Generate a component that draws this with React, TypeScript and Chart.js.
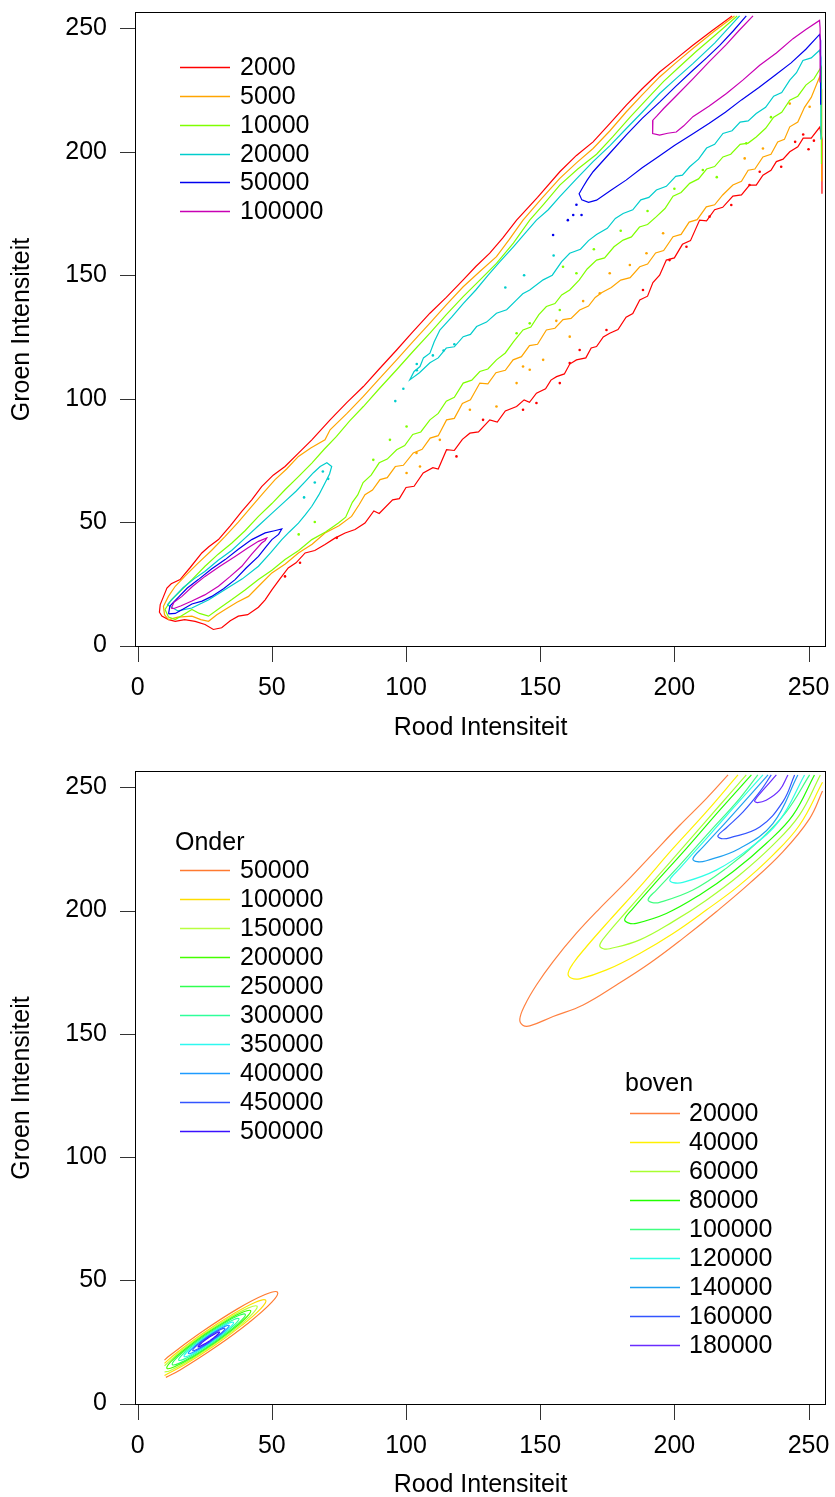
import React, { useEffect, useRef } from 'react';
import { Chart, registerables } from 'chart.js';

Chart.register(...registerables);

type Pt = [number, number];

const FONT = "'Liberation Sans', Arial, Helvetica, sans-serif";

// ---------- shared axes ----------
const axisTicks = [0, 50, 100, 150, 200, 250];
const xTitle = 'Rood Intensiteit';
const yTitle = 'Groen Intensiteit';

// ---------- top panel (raw histogram contours) ----------
const topLevels = [2000, 5000, 10000, 20000, 50000, 100000];
const topColors = ['#FF0000', '#FFA500', '#7FFF00', '#00CDCD', '#0000EE', '#C800B4'];

const c2000Main: Pt[] = [
  [221.5, 255], [214, 249], [206.9, 243.1], [200.5, 237.5], [194.5, 232.3], [188, 225.5], [182.1, 218.9], [176, 211.5],
  [169.7, 204], [163.5, 198.5], [157.3, 191.9], [149, 181.5], [141.2, 172.3], [136, 165], [131.2, 158.9], [126, 153.5],
  [121.3, 148.1], [115, 141], [108.9, 134.6], [102.5, 127], [96.5, 119.7], [90, 112], [84.1, 104.9], [78, 98.5],
  [71.7, 91.4], [64.9, 83.3], [60, 78], [54.9, 72.5], [50.5, 69], [46.2, 64.4], [42.5, 59], [38.8, 54.3], [34.5, 48.5],
  [30.1, 42.9], [26.5, 40], [23.9, 37.5], [19.5, 31.5], [15.8, 26.7], [12.5, 25], [10.9, 23.3], [9.5, 19.5], [8.4, 16.6],
  [8.1, 13.5], [9, 11.9], [11.5, 10.5], [14, 9.8], [17.5, 10.5], [21.4, 9.8], [25.1, 8.5], [28.2, 6.5], [31.3, 7.2],
  [34.5, 10], [37.5, 11.9], [41, 12.5], [45, 15.5], [47.5, 18.5], [50, 22.5], [53, 27], [56.1, 31.4], [59, 33.5],
  [62.4, 37.5], [66, 38.5], [69.8, 40.9], [73.5, 43.5], [77.3, 45.6], [81, 47], [84.7, 49.6],
  [88, 54.5], [90, 53.5], [95, 59], [97.5, 59.5], [100, 64], [103, 64.5], [106.4, 69.9], [110, 72], [112, 71.5],
  [115.1, 79.3], [118, 79], [121, 83.5], [123.8, 86], [127, 86.5], [131.2, 91.4], [134, 90.5], [137, 95], [141.2, 96.8],
  [144, 99.5], [146, 98.5], [148.6, 102.2], [152, 104], [154, 107.5], [156.1, 108.9], [159, 110], [161, 114],
  [163.5, 115.7], [167, 116.5], [169, 120.5], [171, 121.1], [173.5, 125], [175.9, 126.5], [179, 128], [182, 133],
  [184.5, 134.5], [187.1, 140], [190, 141.5], [192, 147], [194.5, 150], [197, 156.1], [200, 157], [203, 162.5],
  [206, 164], [209.4, 172.3], [212, 172], [215, 176.5], [218, 177.5], [221.8, 182], [225, 182.5], [228, 186.5],
  [230.5, 186.5], [233, 190.5], [236, 192.5], [238, 196], [240.5, 197], [243, 200], [246, 202], [248, 205.5],
  [251, 205.5], [254.2, 210], [255, 205], [255, 183],
];
const c2000Dots: Pt[] = [
  [60.5, 33.5], [54.9, 28], [74.2, 43.6], [118.8, 76.6], [128.7, 91.4], [143.6, 95.5], [148.6, 98.2], [157.3, 106.3],
  [161, 114.4], [164.7, 119.7], [174.7, 127.8], [188.3, 144], [198.2, 156.1], [204.5, 161.5], [213.1, 173.7],
  [221.2, 178.4], [228, 186.5], [231.8, 191.9], [239.8, 193.9], [245, 204], [248, 207], [250, 201], [252, 204.5],
];

const c5000Main: Pt[] = [
  [222.4, 255], [214.5, 248.5], [206.9, 241.8], [200.5, 236], [194.5, 230.3], [188, 223], [182.1, 216.2], [176, 208.5],
  [169.7, 201.3], [163.5, 195.5], [157.3, 189.2], [150.5, 181], [143.6, 172.3], [138.5, 164.5], [133.7, 157.5],
  [127.5, 151.5], [121.3, 145.3], [115, 138], [108.9, 130.6], [102.5, 123], [96.5, 115.7], [90, 108], [84.1, 100.9],
  [78, 94], [71.7, 87.4], [69.8, 83.3], [64.5, 80], [59.9, 76.6], [55.5, 71.5], [51.2, 67.2], [47, 62], [42.5, 56.4],
  [37.5, 50], [32.6, 44.2], [27.5, 38.5], [22.6, 33.5], [18, 28.5], [14, 24], [11.5, 20], [9.6, 15.9], [10, 12.5],
  [11.5, 10.5], [15, 11.5], [20.2, 11.9], [23.5, 10.5], [26.4, 9.8], [29.5, 12.5], [32.6, 14.6], [37, 17.5],
  [41.3, 19.9], [45.5, 24.5], [50, 29.4], [55, 33], [59.9, 37.5], [65, 41], [69.8, 45.6], [75, 48.5], [79.7, 52.3],
  [82.5, 57], [84.7, 61.1],
  [87.5, 63], [90.3, 67.2], [93, 68], [96, 72.5], [99, 73], [102.7, 78], [106, 79.5], [109, 84], [112, 85], [115.1, 91.4],
  [118, 92], [121, 98], [124, 99.5], [127.5, 106.3], [130.5, 106], [133.5, 110.5], [137, 111.5], [139.9, 115.7],
  [143, 117], [146, 121.5], [149, 122], [152.3, 127.8], [155.5, 128.5], [158.5, 132], [161.5, 132.5], [164.7, 135.9],
  [168, 137.5], [170.5, 141], [173, 143], [176.5, 145], [180, 148], [183.5, 149], [187.1, 153.4], [190, 154.5],
  [193, 159], [196, 160], [199.5, 165.6], [202.5, 166.5], [205.5, 171.5], [208.5, 172.5], [211.9, 177.7], [215, 178.5],
  [218, 182.5], [221.8, 186.5], [225, 188], [227.5, 192.5], [230, 193], [233, 197.9], [236, 199], [238.5, 204],
  [241, 205], [243, 210.1], [246, 212], [248.5, 218], [251, 222], [254.1, 230.3], [254.9, 225], [254.9, 188],
];
const c5000Dots: Pt[] = [
  [146.1, 111.7], [143.6, 113], [151.1, 115.7], [161, 125.1], [141.2, 106.3], [133.7, 96.8], [123.8, 95.5],
  [112.6, 83.3], [103.9, 78], [105.2, 72.5], [100.2, 69.9], [250.4, 218.2], [243, 219.5], [233, 201.3], [226.2, 197.3],
  [195.8, 167], [189.6, 158.9], [183.4, 154.1], [175.9, 150.8], [172.2, 142.7], [166, 139.5], [156, 131.5],
];

const c10000Main: Pt[] = [
  [223.4, 255], [215.5, 247.5], [208, 240.5], [202, 234.5], [196, 228.5], [189.5, 221], [183.5, 214], [177, 206],
  [171, 199], [164, 193], [157.3, 186.5], [151.5, 179], [146.1, 172.3], [140, 163], [133.7, 154.8], [127.5, 148],
  [121.3, 141.3], [115, 134], [108.9, 126.5], [102.5, 119], [96.5, 111.7], [90, 104], [84.1, 96.8], [79, 91],
  [74.1, 84.7], [69.5, 79.5], [64.9, 73.9], [60, 68.5], [54.9, 63.1], [50, 57.5], [45, 52.3], [40, 46.5], [35.1, 41.5],
  [30, 37], [25.1, 32.1], [20.5, 27], [16.5, 22.7], [12.5, 18.5], [10.2, 14.6], [11.5, 11.5], [14, 10.5], [17, 12.5],
  [20.2, 14.6], [23, 13], [26.4, 11.9], [31, 15.5], [35.1, 18.6], [40, 22.5], [45, 26.7], [50, 30.5], [54.9, 34.8],
  [60, 38.5], [64.9, 42.9], [70, 46], [74.8, 49.6],
  [77.5, 52], [80, 58], [82, 61], [84, 66], [87, 69], [90, 74], [93, 75.5], [96.5, 79.3], [99.5, 81], [102.5, 85.5],
  [105.5, 86.5], [108.9, 91.4], [112, 94], [115, 99], [118, 100.5], [121.3, 106.3], [124.5, 107.5], [127.5, 111],
  [130.5, 112], [133.7, 115.7], [137, 118.5], [140, 123], [143.6, 127.8], [146.5, 129], [149.5, 134], [152.3, 137.3],
  [155.5, 138.5], [158, 142], [161, 144], [164.5, 148], [167.5, 152.5], [171, 156.1], [174, 157], [177.5, 161.5],
  [180.9, 164.2], [184, 165.5], [187, 169.5], [190, 170.5], [193.3, 173.7], [196.5, 177], [199.5, 182], [202.5, 183.5],
  [205.7, 187.2], [209, 189], [212, 193], [215, 194], [218.1, 197.9], [221, 199], [224.5, 203], [227.5, 203.5],
  [230.5, 206], [234, 209.5], [237, 214], [240, 216], [243, 220.9], [246, 222.5], [249, 227], [252, 229.5],
  [254.7, 234.3], [254.8, 230], [254.8, 195],
];
const c10000Dots: Pt[] = [
  [158.5, 153.4], [163.5, 150.8], [157.3, 135.9], [146.1, 130.5], [141.2, 126.5], [100.2, 88.7], [94, 83.3],
  [87.8, 75.2], [226.8, 203.4], [210.6, 192.6], [215.8, 189.7], [200, 185], [190, 176], [180, 168], [170, 160.5],
  [236, 214], [60, 45], [66, 50],
];

const c20000Low: Pt[] = [
  [11, 16.5], [13.5, 19.5], [17, 23.5], [21, 27], [25, 30], [30, 34.5], [35, 38.5], [40, 43.5], [45, 48.5], [50, 53.5],
  [55, 58.5], [59, 62.5], [62.5, 66.5], [65.5, 70], [68, 72.5], [70.5, 74], [72.3, 72.5], [71.5, 69.5], [69.8, 65.8],
  [67.5, 61], [64.9, 56.4], [62.5, 53], [59.9, 49.6], [56.5, 46], [53.7, 42.9], [49.5, 37.5], [45, 32.1], [39, 27],
  [32.6, 22.7], [26.5, 18.5], [20.2, 15.2], [15, 14], [11, 16.5],
];
const c20000High: Pt[] = [
  [224.3, 255], [215, 244], [206.9, 235.7], [200.5, 229.5], [194.5, 223.6], [188, 216], [182.1, 209.4], [176, 202.5],
  [169.7, 196], [163.5, 189], [157.3, 181.8], [153, 176.5], [148.6, 172.3], [144, 166.5], [140, 161.5], [135, 155.5],
  [130.6, 150], [126, 144], [121.3, 138.5], [117, 133], [112.6, 127.8], [110.5, 123], [108.9, 118.4], [106.5, 116.5],
  [105.2, 113], [103, 111], [101.4, 107.6], [105, 110.5], [108.9, 114.5], [112, 116.5], [115, 120.5], [118, 121],
  [121.3, 125.1], [124, 126], [126.3, 129.2], [130, 131], [133.7, 134.6], [137.5, 136], [141.2, 140], [143.5, 142.5],
  [146.1, 144], [151.1, 148.1], [154.5, 150], [158, 155.5], [161, 158.9], [165, 160.5], [168, 164], [171, 166.5],
  [175, 169], [178, 173], [180.9, 175], [184.5, 176.5], [187.5, 180.5], [190.5, 181.5], [193.3, 184.5], [197, 186],
  [200.5, 190], [203, 190.5], [205.7, 193.9], [209, 197], [212, 201.5], [215, 203], [218.1, 207.4], [221.5, 208.5],
  [224.5, 212], [227.5, 212.5], [230.5, 215.5], [234, 218], [237, 222.5], [240, 224], [243, 229], [245.5, 232],
  [247.9, 237], [251, 238], [254.1, 241.1], [254.6, 238], [254.6, 205],
];
const c20000Dots: Pt[] = [
  [66, 66], [69, 70.5], [71, 67.5], [99, 104], [104, 111.5], [110, 117.5], [114, 119.5], [118, 122], [96, 99],
  [137, 145], [144, 150], [155, 158], [104, 114], [62, 60],
];

const c50000Low: Pt[] = [
  [11.5, 12.8], [12, 16], [15.2, 19.6], [18.5, 23.3], [22.6, 26.7], [27.5, 31], [32.6, 34.8], [37.5, 39], [42.5, 42.9],
  [47.5, 45.6], [51, 46.5], [53.7, 47.2], [52.5, 45], [50, 42.9], [47.5, 39.5], [45, 36.1], [40.5, 31.5], [36.3, 26.7],
  [32, 23], [27.6, 19.9], [24, 18], [20.2, 16.8], [16.5, 14.5], [14, 13], [11.5, 12.8],
];
const c50000High: Pt[] = [
  [226.8, 255], [222, 249], [216.9, 243.1], [212, 238], [206.9, 233], [200.5, 226.5], [194.5, 220.1], [188, 213.5],
  [182.1, 206.8], [176, 199.5], [169.7, 191.9], [167.5, 188.5], [166, 185.8], [164.5, 183], [165.5, 180.5],
  [168, 179.5], [171, 180.4], [176.5, 184.5], [182, 188.5], [188, 193.5], [194, 198], [200, 202.5], [206.5, 207],
  [213, 211.5], [219, 216], [225, 221], [231.5, 226], [237.5, 231], [243.5, 236], [249, 241.5], [254.1, 247.5],
  [254.5, 245], [254.5, 219],
];
const c50000Dots: Pt[] = [[154.8, 166.3], [160.3, 172.3], [162.3, 174.4], [165.4, 174.4], [163.5, 178.5]];

const c100000Low: Pt[] = [
  [12.5, 15], [13.5, 17.5], [16.5, 19.9], [20.5, 24], [25.1, 28], [30.5, 32], [36.3, 36.1], [41, 39.5], [45, 42.2],
  [48.1, 43.6], [47.5, 42.5], [46.2, 41.5], [42.5, 37], [38.8, 32.1], [34.5, 28], [30.1, 24], [25, 20.5], [20.2, 18],
  [16, 16], [13.5, 15], [12.5, 15],
];
const c100000High: Pt[] = [
  [229.3, 255], [224, 249], [219.4, 243.5], [213, 236.5], [206.9, 229.5], [201, 223], [196, 217.5], [193.5, 214.5],
  [192, 212.8], [191.8, 209.5], [192, 207.4], [194.5, 206.7], [197.5, 207.5], [200.7, 208], [203.5, 210.5],
  [206.9, 214.2], [213, 218.5], [219.4, 223.6], [225.5, 229], [231.8, 235], [238, 240], [244.2, 245.8], [249, 249.5],
  [254.1, 253.2], [254.3, 250], [254.3, 228],
];

// ---------- bottom panel (fitted densities) ----------
const onderLevels = [50000, 100000, 150000, 200000, 250000, 300000, 350000, 400000, 450000, 500000];
const onderColors = ['#FF7A30', '#FFDD00', '#B8FF40', '#44FF00', '#30FF50', '#2EFF9A', '#2EF8F0', '#1E9BFF', '#3355FF', '#3A10FF'];
const o50000: Pt[] = [[10, 17.6], [11.6, 19.2], [24.1, 29.2], [37.2, 38.4], [47.5, 44.2], [52.1, 45.2], [49.9, 41.0], [41.4, 32.8], [28.9, 22.8], [15.8, 13.6], [10.5, 10.6]];
const o100000: Pt[] = [[10, 16.3], [14.2, 20.3], [24.5, 28.6], [35.4, 36.2], [43.9, 41.1], [47.7, 41.9], [45.9, 38.5], [38.8, 31.7], [28.5, 23.4], [17.6, 15.8], [10, 11.4]];
const o150000: Pt[] = [[10, 15.3], [16, 21.2], [24.8, 28.3], [34, 34.7], [41.3, 38.8], [44.5, 39.5], [42.9, 36.6], [37, 30.8], [28.2, 23.8], [19, 17.3], [11.8, 13.2], [10, 12.8]];
const o200000: Pt[] = [[28, 24.1], [35.6, 30.2], [40.7, 35.2], [42.1, 37.7], [39.3, 37.1], [33, 33.5], [25, 28], [17.4, 21.8], [12.3, 16.9], [10.9, 14.3], [13.7, 14.9], [20, 18.5], [28, 24.1]];
const o250000: Pt[] = [[27.8, 24.3], [34.4, 29.6], [38.9, 34], [40.1, 36.2], [37.6, 35.7], [32.2, 32.6], [25.2, 27.7], [18.6, 22.4], [14.1, 18], [12.9, 15.8], [15.4, 16.3], [20.8, 19.4], [27.8, 24.3]];
const o300000: Pt[] = [[27.6, 24.6], [33, 29], [36.7, 32.6], [37.7, 34.4], [35.7, 34], [31.2, 31.4], [25.5, 27.4], [20, 23], [16.3, 19.4], [15.3, 17.6], [17.3, 18], [21.8, 20.6], [27.6, 24.6]];
const o350000: Pt[] = [[27.4, 24.9], [31.9, 28.5], [34.9, 31.4], [35.7, 32.9], [34, 32.6], [30.4, 30.5], [25.6, 27.2], [21.2, 23.6], [18.1, 20.6], [17.3, 19.1], [19, 19.4], [22.7, 21.6], [27.4, 24.9]];
const o400000: Pt[] = [[27.2, 25.1], [30.9, 28], [33.4, 30.5], [34.1, 31.7], [32.7, 31.4], [29.7, 29.7], [25.8, 27], [22.1, 24], [19.6, 21.5], [18.9, 20.3], [20.3, 20.6], [23.3, 22.3], [27.2, 25.1]];
const o450000: Pt[] = [[27.1, 25.3], [30, 27.6], [32, 29.5], [32.5, 30.5], [31.4, 30.3], [29, 28.9], [25.9, 26.8], [23, 24.4], [21, 22.5], [20.5, 21.5], [21.6, 21.7], [24, 23.1], [27.1, 25.3]];
const o500000: Pt[] = [[26.9, 25.5], [28.8, 27.1], [30.2, 28.4], [30.5, 29], [29.8, 28.9], [28.2, 27.9], [26.1, 26.5], [24.2, 24.9], [22.9, 23.7], [22.5, 23], [23.2, 23.2], [24.8, 24.1], [26.9, 25.5]];

const bovenLevels = [20000, 40000, 60000, 80000, 100000, 120000, 140000, 160000, 180000];
const bovenColors = ['#FF8040', '#FFF000', '#A8FF30', '#22FF00', '#40FF80', '#2EFFE6', '#1EA0F0', '#3355FF', '#6A2CFF'];
const b20000: Pt[] = [[220, 255], [211.9, 245.4], [202, 234.6], [192, 223.1], [182.1, 211.7], [172.2, 200.9], [163.5, 190.8], [154.8, 179.3], [148.6, 169.8], [144.3, 161.7], [142.4, 156], [143.5, 153.5], [146.1, 153.2], [154.8, 157], [166, 161.7], [178.4, 169.8], [190.8, 178.6], [203.2, 188.7], [215.6, 199.5], [228, 211], [240.4, 223.8], [250.4, 237.3], [255.2, 248.5]];
const b40000: Pt[] = [[223.7, 255], [211.9, 240], [199.5, 225.2], [187.1, 209.6], [175.9, 196.1], [167.2, 185.3], [162.3, 178.6], [160.4, 174.5], [161.5, 172.6], [164.7, 172.3], [174.7, 175.9], [187.1, 182.6], [199.5, 190.7], [211.9, 200.2], [224.3, 210.3], [236.7, 222.5], [246.6, 234.6], [255.2, 252]];
const b60000: Pt[] = [[226.8, 255], [216.9, 242.7], [204.5, 227.2], [192, 211.7], [182.1, 199.5], [174.7, 190.1], [172.2, 186], [173.5, 184.5], [175.9, 184.5], [187.1, 188.1], [199.5, 195.5], [211.9, 204.2], [224.3, 214.4], [236.7, 226.5], [246.6, 238.7], [254.4, 255]];
const b80000: Pt[] = [[228.7, 255], [216.9, 240.7], [204.5, 225.2], [193.3, 211.7], [184.6, 200.9], [181.5, 196.5], [182.8, 195], [185.8, 194.8], [197, 198.8], [209.4, 206.3], [221.8, 215.7], [234.2, 227.2], [244.2, 238.7], [252.2, 255]];
const b100000: Pt[] = [[231.1, 255], [224.3, 245.4], [213.1, 231.9], [202, 218.4], [193.3, 208.3], [190.2, 204.5], [191.5, 203.3], [194.5, 203.3], [206.9, 208.3], [219.3, 217.1], [231.8, 228.5], [241.7, 240], [250.4, 255]];
const b120000: Pt[] = [[233, 255], [221.8, 241.4], [211.9, 229.2], [202, 217.1], [198.3, 212.5], [199.5, 211.3], [203.2, 211.4], [215.6, 216.4], [228, 225.2], [239.2, 236.6], [248.5, 255]];
const b140000: Pt[] = [[234.9, 255], [229.3, 248.1], [219.3, 236], [210.7, 225.8], [206.9, 221], [208.5, 219.8], [211.9, 220.2], [224.3, 225.2], [236.7, 235.3], [246, 255]];
const b160000: Pt[] = [[236.1, 255], [231.8, 248.1], [225.6, 240], [219.3, 233.5], [216.2, 230.3], [217.5, 229.2], [220.6, 229.5], [231.8, 233.9], [240.4, 244.1], [244.8, 255]];
const b180000: Pt[] = [[238, 255], [233, 248.8], [229.9, 244.5], [231, 243.8], [234.2, 244.7], [239.2, 248.8], [242.3, 255]];

const onderRings: Pt[][] = [o50000, o100000, o150000, o200000, o250000, o300000, o350000, o400000, o450000, o500000];
const bovenRings: Pt[][] = [b20000, b40000, b60000, b80000, b100000, b120000, b140000, b160000, b180000];

// ---------- helpers ----------
type Contour = { lines: Pt[][]; dots: Pt[] };

const topContours: Contour[] = [
  { lines: [c2000Main], dots: c2000Dots },
  { lines: [c5000Main], dots: c5000Dots },
  { lines: [c10000Main], dots: c10000Dots },
  { lines: [c20000Low, c20000High], dots: c20000Dots },
  { lines: [c50000Low, c50000High], dots: c50000Dots },
  { lines: [c100000Low, c100000High], dots: [] },
];

function lineDataset(pts: Pt[], color: string, tension: number) {
  return {
    data: pts.map(([x, y]) => ({ x, y })),
    showLine: true,
    borderColor: color,
    backgroundColor: color,
    borderWidth: 1.2,
    pointRadius: 0,
    pointHoverRadius: 0,
    tension,
    fill: false,
  };
}
function dotDataset(pts: Pt[], color: string) {
  return {
    data: pts.map(([x, y]) => ({ x, y })),
    showLine: false,
    pointRadius: 1.3,
    pointHoverRadius: 0,
    pointBorderWidth: 0,
    pointBackgroundColor: color,
    backgroundColor: color,
    borderColor: color,
  };
}

const framePlugin = {
  id: 'rFrame',
  afterDatasetsDraw(chart: any) {
    const { ctx, chartArea: a, scales } = chart;
    ctx.save();
    ctx.strokeStyle = '#000';
    ctx.lineWidth = 1;
    ctx.strokeRect(Math.round(a.left) + 0.5, Math.round(a.top) + 0.5, Math.round(a.right - a.left) - 1, Math.round(a.bottom - a.top) - 1);
    ctx.strokeStyle = '#333';
    ctx.beginPath();
    for (const v of axisTicks) {
      const px = Math.round(scales.x.getPixelForValue(v)) + 0.5;
      ctx.moveTo(px, a.bottom);
      ctx.lineTo(px, a.bottom + 15);
      const py = Math.round(scales.y.getPixelForValue(v)) + 0.5;
      ctx.moveTo(a.left, py);
      ctx.lineTo(a.left - 15, py);
    }
    ctx.stroke();
    ctx.restore();
  },
};

type LegendBlock = {
  title?: string; titleX?: number; titleY?: number;
  lineX0: number; lineX1: number; textX: number; rowY: number; rowStep: number;
  items: { label: string; color: string }[];
};

const legendPlugin = {
  id: 'rLegend',
  afterDraw(chart: any, _args: any, opts: any) {
    const ctx = chart.ctx;
    const blocks: LegendBlock[] = (opts && opts.blocks) || [];
    for (const b of blocks) {
      ctx.save();
      ctx.font = `25px ${FONT}`;
      ctx.fillStyle = '#000';
      ctx.textBaseline = 'middle';
      ctx.textAlign = 'left';
      if (b.title) ctx.fillText(b.title, b.titleX, b.titleY);
      b.items.forEach((it, i) => {
        const y = Math.round(b.rowY + i * b.rowStep) + 0.5;
        ctx.strokeStyle = it.color;
        ctx.lineWidth = 1.3;
        ctx.beginPath();
        ctx.moveTo(b.lineX0, y);
        ctx.lineTo(b.lineX1, y);
        ctx.stroke();
        ctx.fillText(it.label, b.textX, y + 1);
      });
      ctx.restore();
    }
  },
};

function zeroPad(s: any) {
  s.paddingTop = 0; s.paddingBottom = 0; s.paddingLeft = 0; s.paddingRight = 0;
}

function makeConfig(datasets: any[], padTop: number, xHeight: number, titlePadBottom: number, blocks: LegendBlock[]): any {
  const tickFont = { family: FONT, size: 25 };
  const titleFont = { family: FONT, size: 25, lineHeight: 1 };
  const setTicks = (s: any) => { s.ticks = axisTicks.map((v) => ({ value: v })); };
  return {
    type: 'scatter',
    data: { datasets },
    plugins: [framePlugin, legendPlugin],
    options: {
      responsive: false,
      animation: false,
      devicePixelRatio: 1,
      events: [],
      layout: { padding: { top: padTop, right: 9, left: 0, bottom: 0 } },
      plugins: { legend: { display: false }, tooltip: { enabled: false }, rLegend: { blocks } },
      scales: {
        x: {
          type: 'linear', min: -1, max: 256.5,
          afterBuildTicks: setTicks,
          afterFit: (s: any) => { s.height = xHeight; zeroPad(s); },
          grid: { display: false, drawTicks: false },
          border: { display: false },
          ticks: { padding: 26, font: tickFont, color: '#000', maxRotation: 0, autoSkip: false, callback: (v: any) => String(v) },
          title: { display: true, text: xTitle, font: titleFont, color: '#000', padding: { top: 0, bottom: titlePadBottom } },
        },
        y: {
          type: 'linear', min: -0.6, max: 256.6,
          afterBuildTicks: setTicks,
          afterFit: (s: any) => { s.width = 135; zeroPad(s); },
          grid: { display: false, drawTicks: false },
          border: { display: false },
          ticks: { padding: 28, font: tickFont, color: '#000', autoSkip: false, callback: (v: any) => String(v) },
          title: { display: true, text: yTitle, font: titleFont, color: '#000', padding: { top: 9.5, bottom: 0 } },
        },
      },
    },
  };
}

function buildTopDatasets() {
  const ds: any[] = [];
  for (let i = topContours.length - 1; i >= 0; i--) {
    const c = topContours[i];
    for (const l of c.lines) ds.push(lineDataset(l, topColors[i], 0));
    if (c.dots.length) ds.push(dotDataset(c.dots, topColors[i]));
  }
  return ds;
}

function buildBottomDatasets() {
  const ds: any[] = [];
  for (let i = onderRings.length - 1; i >= 0; i--) ds.push(lineDataset(onderRings[i], onderColors[i], 0.4));
  for (let i = bovenRings.length - 1; i >= 0; i--) ds.push(lineDataset(bovenRings[i], bovenColors[i], 0.4));
  return ds;
}

export default function App() {
  const topRef = useRef<HTMLCanvasElement>(null);
  const botRef = useRef<HTMLCanvasElement>(null);

  useEffect(() => {
    const topBlocks: LegendBlock[] = [{
      lineX0: 180, lineX1: 230, textX: 240, rowY: 67, rowStep: 28.85,
      items: topLevels.map((l, i) => ({ label: String(l), color: topColors[i] })),
    }];
    const botBlocks: LegendBlock[] = [
      {
        title: 'Onder', titleX: 175, titleY: 98,
        lineX0: 180, lineX1: 230, textX: 240, rowY: 125, rowStep: 29,
        items: onderLevels.map((l, i) => ({ label: String(l), color: onderColors[i] })),
      },
      {
        title: 'boven', titleX: 625, titleY: 339,
        lineX0: 630, lineX1: 680, textX: 689, rowY: 368, rowStep: 29,
        items: bovenLevels.map((l, i) => ({ label: String(l), color: bovenColors[i] })),
      },
    ];
    const c1 = new Chart(topRef.current as HTMLCanvasElement, makeConfig(buildTopDatasets(), 12, 98, 4.5, topBlocks));
    const c2 = new Chart(botRef.current as HTMLCanvasElement, makeConfig(buildBottomDatasets(), 26, 92, -0.5, botBlocks));
    return () => { c1.destroy(); c2.destroy(); };
  }, []);

  return (
    <div style={{ position: 'absolute', left: 0, top: 0, width: 835, height: 1497, background: '#fff', overflow: 'hidden' }}>
      <canvas ref={topRef} width={835} height={745} style={{ position: 'absolute', left: 0, top: 0, width: 835, height: 745 }} />
      <canvas ref={botRef} width={835} height={752} style={{ position: 'absolute', left: 0, top: 745, width: 835, height: 752 }} />
    </div>
  );
}
